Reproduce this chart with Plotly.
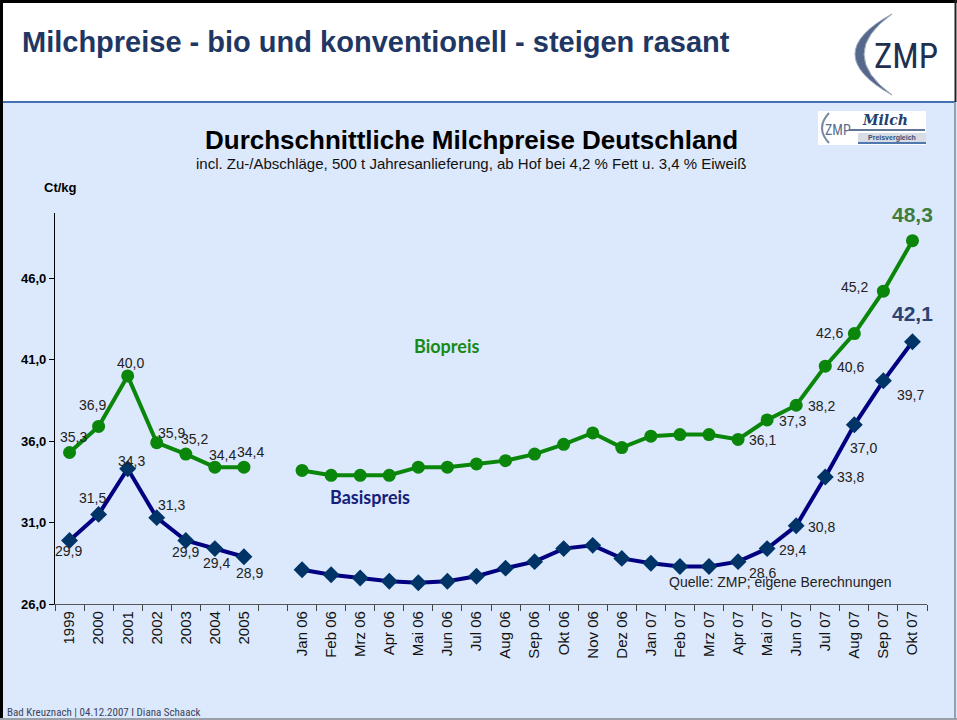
import plotly.graph_objects as go

# ---- data -------------------------------------------------------------
years = ["1999", "2000", "2001", "2002", "2003", "2004", "2005"]
months = ["Jan 06", "Feb 06", "Mrz 06", "Apr 06", "Mai 06", "Jun 06", "Jul 06",
          "Aug 06", "Sep 06", "Okt 06", "Nov 06", "Dez 06", "Jan 07", "Feb 07",
          "Mrz 07", "Apr 07", "Mai 07", "Jun 07", "Jul 07", "Aug 07", "Sep 07",
          "Okt 07"]
gap = [" "]

bio_annual = [35.3, 36.9, 40.0, 35.9, 35.2, 34.4, 34.4]
bio_monthly = [34.2, 33.9, 33.9, 33.9, 34.4, 34.4, 34.6, 34.8, 35.2, 35.8, 36.5,
               35.6, 36.3, 36.4, 36.4, 36.1, 37.3, 38.2, 40.6, 42.6, 45.2, 48.3]
basis_annual = [29.9, 31.5, 34.3, 31.3, 29.9, 29.4, 28.9]
basis_monthly = [28.1, 27.8, 27.6, 27.4, 27.3, 27.4, 27.7, 28.2, 28.6, 29.4, 29.6,
                 28.8, 28.5, 28.3, 28.3, 28.6, 29.4, 30.8, 33.8, 37.0, 39.7, 42.1]

y_ticks = [26, 31, 36, 41, 46]

categories = years + gap + months
bio = bio_annual + [None] + bio_monthly
basis = basis_annual + [None] + basis_monthly

# ---- value label offsets from the marker, in pixels (style only) -----
bio_label_off = {
    "1999": (4, -15), "2000": (-6, -21), "2001": (3, -13), "2002": (15, -10),
    "2003": (9, -15), "2004": (8, -12), "2005": (7, -15),
    "Apr 07": (24, 1), "Mai 07": (25, 1), "Jun 07": (25, 1), "Jul 07": (25, 1),
    "Aug 07": (-25, -1), "Sep 07": (-29, -4), "Okt 07": (0, -26),
}
basis_label_off = {
    "1999": (-1, 11), "2000": (-6, -16), "2001": (4, -8), "2002": (15, -13),
    "2003": (0, 12), "2004": (2, 14), "2005": (6, 16),
    "Apr 07": (24, 11), "Mai 07": (25, 1), "Jun 07": (25, 1), "Jul 07": (25, 0),
    "Aug 07": (9, 23), "Sep 07": (27, 14), "Okt 07": (0, -28),
}
highlight = "Okt 07"

W, H = 957, 720
L, R, T, B = 55, 927, 213, 604   # plot area in pixels


def px(x):
    return (x - L) / (R - L)


def py(y):
    return (B - y) / (B - T)


def fmt(v):
    return f"{v:.1f}".replace(".", ",")


def value_labels(values, offsets, hl_color):
    out = []
    for i, (cat, v) in enumerate(zip(categories, values)):
        if v is None or cat not in offsets:
            continue
        dx, dy = offsets[cat]
        hl = cat == highlight
        # numeric position on the category axis ("1999" would be read as a number)
        out.append(dict(
            x=i, y=v, xref="x", yref="y", showarrow=False,
            xshift=dx, yshift=-dy, xanchor="center", yanchor="middle",
            text=f"<b>{fmt(v)}</b>" if hl else fmt(v),
            font=dict(size=21 if hl else 14, color=hl_color if hl else "#222222"),
        ))
    return out


fig = go.Figure()

fig.add_trace(go.Scatter(
    x=categories, y=bio, name="Biopreis", mode="lines+markers",
    line=dict(color="#0A860A", width=4),
    marker=dict(symbol="circle", size=13, color="#0A860A"),
    cliponaxis=False, showlegend=False,
))
fig.add_trace(go.Scatter(
    x=categories, y=basis, name="Basispreis", mode="lines+markers",
    line=dict(color="#000080", width=4),
    marker=dict(symbol="diamond", size=13, color="#003366"),
    cliponaxis=False, showlegend=False,
))

bg = "#DCE8FB"
fig.update_layout(
    width=W, height=H,
    margin=dict(l=L, r=W - R, t=T, b=H - B, autoexpand=False),
    paper_bgcolor=bg, plot_bgcolor=bg,
    separators=",.",
    font=dict(family="Arial, Liberation Sans", color="#000000"),
)
fig.update_xaxes(
    type="category", categoryorder="array", categoryarray=categories,
    range=[-0.5, len(categories) - 0.5],
    tickson="boundaries", ticks="outside", ticklen=6, tickcolor="#444444",
    showline=True, linecolor="#555555", linewidth=1.2, showgrid=False,
    tickangle=-90, tickfont=dict(size=15, color="#111111"),
)
fig.update_yaxes(
    range=[26, 50], tickvals=y_ticks, tickformat=".1f",
    ticks="outside", ticklen=5, tickcolor="#000000",
    showline=True, linecolor="#000000", linewidth=1.2, showgrid=False,
    zeroline=False, tickfont=dict(size=13, weight="bold"),
)

# ---- frame / header ---------------------------------------------------
shapes = [
    dict(type="rect", x0=px(0), x1=px(W), y0=py(0), y1=py(101),
         fillcolor="white", line=dict(width=0), layer="below"),
    dict(type="line", x0=px(2), x1=px(955), y0=py(102), y1=py(102),
         line=dict(color="#4470B5", width=2)),
    dict(type="line", x0=px(1.5), x1=px(1.5), y0=py(0), y1=py(H),
         line=dict(color="black", width=3)),
    dict(type="line", x0=px(0), x1=px(W), y0=py(1.5), y1=py(1.5),
         line=dict(color="black", width=3)),
    dict(type="line", x0=px(955.5), x1=px(955.5), y0=py(0), y1=py(102),
         line=dict(color="#222222", width=2)),
    dict(type="line", x0=px(955), x1=px(955), y0=py(102), y1=py(H),
         line=dict(color="#9AA0AA", width=2)),
    dict(type="line", x0=px(0), x1=px(W), y0=py(719), y1=py(719),
         line=dict(color="#9AA0AA", width=2)),
    # ZMP logo crescent
    dict(type="path",
         path=f"M {px(892)},{py(14)} Q {px(818)},{py(54)} {px(892)},{py(95)} "
              f"Q {px(836)},{py(54)} {px(892)},{py(14)} Z",
         fillcolor="#56698C", line=dict(color="#9AA6BA", width=1)),
    # small ZMP Milch box
    dict(type="rect", x0=px(818), x1=px(926), y0=py(111), y1=py(145),
         fillcolor="white", line=dict(width=0)),
    dict(type="rect", x0=px(858), x1=px(926), y0=py(133), y1=py(142),
         fillcolor="#D8DCE4", line=dict(width=0)),
    dict(type="line", x0=px(849), x1=px(925), y0=py(130), y1=py(130),
         line=dict(color="#2E4874", width=1.5)),
    dict(type="line", x0=px(858), x1=px(926), y0=py(143), y1=py(143),
         line=dict(color="#4E78B0", width=2)),
    dict(type="path",
         path=f"M {px(829)},{py(113)} Q {px(815)},{py(128)} {px(829)},{py(143)}",
         line=dict(color="#7A8AA6", width=2)),
]
for sh in shapes:
    sh.update(xref="paper", yref="paper")
fig.update_layout(shapes=shapes)

narrow = "Roboto Condensed, Liberation Sans Narrow, Arial Narrow, Arial"
ann = [
    dict(x=px(20), y=py(42), text="<b>Milchpreise - bio und konventionell - steigen rasant</b>",
         xanchor="left", yanchor="middle", font=dict(size=29, color="#1F3763")),
    dict(x=px(906), y=py(56), text="ZMP", xanchor="center", yanchor="middle",
         font=dict(family=narrow, size=35, color="#1F3050")),
    dict(x=px(471), y=py(140), text="<b>Durchschnittliche Milchpreise Deutschland</b>",
         xanchor="center", yanchor="middle", font=dict(size=26, color="#000000")),
    dict(x=px(471), y=py(163),
         text="incl. Zu-/Abschläge, 500 t Jahresanlieferung, ab Hof bei 4,2 % Fett u. 3,4 % Eiweiß",
         xanchor="center", yanchor="middle", font=dict(size=15, color="#111111")),
    dict(x=px(60), y=py(188), text="<b>Ct/kg</b>", xanchor="center", yanchor="middle",
         font=dict(size=13, color="#000000")),
    dict(x=px(446), y=py(346), text="<b>Biopreis</b>", xanchor="center", yanchor="middle",
         font=dict(family="Lato, Noto Sans, sans-serif", size=18, color="#168A16")),
    dict(x=px(370), y=py(497), text="<b>Basispreis</b>", xanchor="center", yanchor="middle",
         font=dict(family="Lato, Noto Sans, sans-serif", size=18, color="#14207A")),
    dict(x=px(780), y=py(582), text="Quelle: ZMP; eigene Berechnungen",
         xanchor="center", yanchor="middle", font=dict(size=14, color="#222222")),
    dict(x=px(5), y=py(712), text="Bad Kreuznach | 04.12.2007 I Diana Schaack",
         xanchor="left", yanchor="middle", font=dict(family=narrow, size=11, color="#3A4460")),
    dict(x=px(838), y=py(130), text="ZMP", xanchor="center", yanchor="middle",
         font=dict(family=narrow, size=14, color="#5A6E90")),
    dict(x=px(885), y=py(120), text="<i><b>Milch</b></i>", xanchor="center", yanchor="middle",
         font=dict(family="DejaVu Serif, serif", size=14, color="#23406E")),
    dict(x=px(892), y=py(138), text="<b>Preisvergleich</b>", xanchor="center", yanchor="middle",
         font=dict(size=7, color="#35507A")),
]
for a in ann:
    a.update(xref="paper", yref="paper", showarrow=False)
ann += value_labels(bio, bio_label_off, "#3C7D3C")
ann += value_labels(basis, basis_label_off, "#2C4272")
fig.update_layout(annotations=ann)

fig.write_html("out.html", config={"displayModeBar": False},
               post_script="document.body.style.margin='0';")
